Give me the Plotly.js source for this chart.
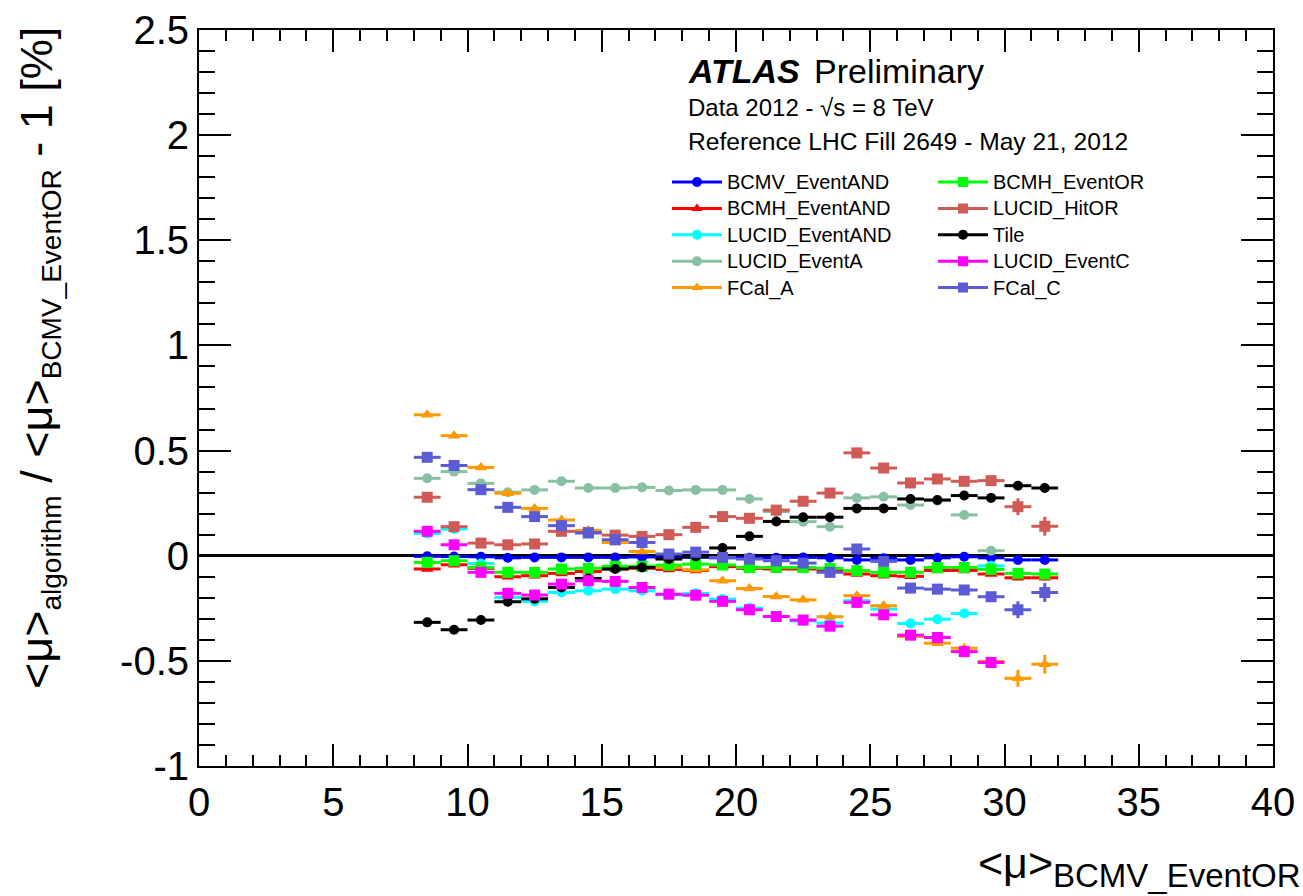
<!DOCTYPE html>
<html>
<head>
<meta charset="utf-8">
<script src="https://cdn.plot.ly/plotly-3.0.1.min.js"></script>
<style>html,body{margin:0;padding:0;background:#fff;}#chart{width:1303px;height:896px;}</style>
</head>
<body>
<div id="chart"></div>
<script>
// ---- data ----
const muBins = [8.5,9.5,10.5,11.5,12.5,13.5,14.5,15.5,16.5,17.5,18.5,19.5,20.5,21.5,22.5,23.5,24.5,25.5,26.5,27.5,28.5,29.5,30.5,31.5];

const BCMV_EventAND = [-0.003,-0.004,-0.005,-0.010,-0.008,-0.008,-0.008,-0.008,-0.006,-0.010,-0.008,-0.010,-0.010,-0.010,-0.008,-0.010,-0.020,-0.012,-0.020,-0.010,-0.005,-0.010,-0.020,-0.020];
const BCMH_EventAND = [-0.063,-0.043,-0.060,-0.100,-0.095,-0.084,-0.075,-0.063,-0.060,-0.065,-0.070,-0.052,-0.060,-0.063,-0.063,-0.070,-0.087,-0.095,-0.098,-0.070,-0.070,-0.087,-0.105,-0.105];
const LUCID_EventAND = [0.106,0.127,-0.037,-0.198,-0.217,-0.175,-0.167,-0.159,-0.167,-0.186,-0.179,-0.206,-0.249,-0.290,-0.310,-0.320,-0.214,-0.254,-0.322,-0.302,-0.275,-0.048,null,null];
const LUCID_EventA = [0.368,0.400,0.344,0.302,0.313,0.354,0.322,0.322,0.325,0.310,0.313,0.313,0.270,0.210,0.162,0.138,0.275,0.280,0.241,0.262,0.194,0.024,null,null];
const FCal_A = [0.670,0.571,0.420,0.297,0.225,0.170,0.120,0.063,0.020,-0.056,-0.067,-0.119,-0.156,-0.194,-0.210,-0.290,-0.190,-0.238,-0.384,-0.416,-0.440,-0.503,-0.583,-0.516];
const BCMH_EventOR = [-0.032,-0.024,-0.056,-0.079,-0.079,-0.063,-0.060,-0.050,-0.050,-0.045,-0.040,-0.044,-0.056,-0.056,-0.056,-0.060,-0.071,-0.079,-0.079,-0.056,-0.056,-0.065,-0.084,-0.087];
const LUCID_HitOR = [0.278,0.138,0.060,0.052,0.056,0.116,0.111,0.098,0.092,0.100,0.135,0.186,0.178,0.217,0.259,0.298,0.489,0.417,0.346,0.365,0.354,0.357,0.233,0.140];
const Tile = [-0.317,-0.352,-0.306,-0.219,-0.205,-0.151,-0.108,-0.063,-0.056,-0.016,-0.003,0.037,0.092,0.163,0.183,0.183,0.225,0.225,0.270,0.265,0.286,0.275,0.333,0.322];
const LUCID_EventC = [0.116,0.052,-0.079,-0.179,-0.187,-0.135,-0.119,-0.122,-0.151,-0.183,-0.188,-0.217,-0.257,-0.289,-0.306,-0.335,-0.222,-0.281,-0.378,-0.389,-0.456,-0.508,null,null];
const FCal_C = [0.468,0.429,0.314,0.230,0.186,0.143,0.108,0.076,0.063,0.008,0.017,-0.008,-0.016,-0.024,-0.035,-0.079,0.032,-0.027,-0.154,-0.159,-0.163,-0.195,-0.257,-0.175];

// vertical statistical uncertainty (visible mainly at high mu)
const statErr = [0.004,0.004,0.004,0.004,0.004,0.004,0.004,0.004,0.004,0.005,0.005,0.005,0.006,0.006,0.007,0.008,0.015,0.020,0.012,0.012,0.015,0.020,0.040,0.045];

const binHalfWidth = 0.5;

const yTickVals = [-1,-0.5,0,0.5,1,1.5,2,2.5];
const yTickText = ['-1','-0.5','0','0.5','1','1.5','2','2.5'];
const xTickVals = [0,5,10,15,20,25,30,35,40];

// ---- series definitions: [name, values, color, symbol, legend, hasErr] ----
const series = [
  ['BCMV_EventAND', BCMV_EventAND, '#0000ff', 'circle', 'legend', false],
  ['BCMH_EventAND', BCMH_EventAND, '#ff0000', 'triangle-up', 'legend', false],
  ['LUCID_EventAND', LUCID_EventAND, '#00ffff', 'circle', 'legend', false],
  ['LUCID_EventA', LUCID_EventA, '#88c1a2', 'circle', 'legend', false],
  ['FCal_A', FCal_A, '#ff9900', 'triangle-up', 'legend', true],
  ['BCMH_EventOR', BCMH_EventOR, '#00ff00', 'square', 'legend2', false],
  ['LUCID_HitOR', LUCID_HitOR, '#d05a55', 'square', 'legend2', true],
  ['Tile', Tile, '#000000', 'circle', 'legend2', false],
  ['LUCID_EventC', LUCID_EventC, '#ff00ff', 'square', 'legend2', false],
  ['FCal_C', FCal_C, '#5b5bd6', 'square', 'legend2', true]
];

const FONT = 'Liberation Sans, Arial, Helvetica, sans-serif';
const traces = [];
// data traces
series.forEach(s => {
  traces.push({
    type: 'scatter', mode: 'markers', name: s[0], showlegend: false,
    x: muBins, y: s[1],
    marker: {color: s[2], symbol: s[3], size: s[3] === 'circle' ? 10 : 11},
    error_x: {type: 'constant', value: binHalfWidth, width: 0, thickness: 3, color: s[2]},
    error_y: s[5] ? {type: 'data', array: statErr, width: 0, thickness: 3, color: s[2]} : {visible: false},
    cliponaxis: true
  });
});
// legend entries (line + marker sample)
series.forEach(s => {
  traces.push({
    type: 'scatter', mode: 'lines+markers', name: '<span style="font-size:20px">' + s[0] + '</span>', legend: s[4],
    x: [null], y: [null],
    line: {color: s[2], width: 3},
    marker: {color: s[2], symbol: s[3], size: 10}
  });
});

function px2paperX(px){ return (px - 199) / 1074; }
function px2paperY(py){ return (766 - py) / 737; }

const layout = {
  width: 1303, height: 896,
  margin: {l: 199, r: 30, t: 30, b: 130, pad: 0},
  paper_bgcolor: '#ffffff', plot_bgcolor: '#ffffff',
  font: {family: FONT, color: '#000000'},
  xaxis: {
    range: [0, 40], tickvals: xTickVals, ticks: 'inside', ticklen: 22, tickwidth: 2, tickcolor: '#000',
    showline: true, linecolor: '#000', linewidth: 2, mirror: 'ticks', showgrid: false, zeroline: false,
    tickfont: {family: FONT, size: 40, color: '#000'},
    minor: {dtick: 1, ticks: 'inside', ticklen: 11, tickwidth: 2, tickcolor: '#000', showgrid: false},
    fixedrange: true
  },
  yaxis: {
    range: [-1, 2.5], tickvals: yTickVals, ticktext: yTickText, ticks: 'inside', ticklen: 32, tickwidth: 2, tickcolor: '#000',
    showline: true, linecolor: '#000', linewidth: 2, mirror: 'ticks', showgrid: false,
    zeroline: true, zerolinecolor: '#000', zerolinewidth: 3,
    tickfont: {family: FONT, size: 40, color: '#000'},
    minor: {dtick: 0.1, ticks: 'inside', ticklen: 16, tickwidth: 2, tickcolor: '#000', showgrid: false},
    fixedrange: true
  },
  legend: {
    x: px2paperX(667), y: px2paperY(163), xanchor: 'left', yanchor: 'top',
    bgcolor: 'rgba(0,0,0,0)', borderwidth: 0,
    font: {family: FONT, size: 18, color: '#000'}, itemwidth: 50, tracegroupgap: 0
  },
  legend2: {
    x: px2paperX(933), y: px2paperY(163), xanchor: 'left', yanchor: 'top',
    bgcolor: 'rgba(0,0,0,0)', borderwidth: 0,
    font: {family: FONT, size: 18, color: '#000'}, itemwidth: 50, tracegroupgap: 0
  },
  annotations: [
    {xref: 'paper', yref: 'paper', x: px2paperX(686), y: px2paperY(70), xanchor: 'left', yanchor: 'middle',
     text: '<b><i>ATLAS</i></b>', showarrow: false, font: {family: FONT, size: 34, color: '#000'}},
    {xref: 'paper', yref: 'paper', x: px2paperX(812), y: px2paperY(70), xanchor: 'left', yanchor: 'middle',
     text: 'Preliminary', showarrow: false, font: {family: FONT, size: 34, color: '#000'}},
    {xref: 'paper', yref: 'paper', x: px2paperX(686), y: px2paperY(107), xanchor: 'left', yanchor: 'middle',
     text: 'Data 2012 - √s = 8 TeV', showarrow: false, font: {family: FONT, size: 24, color: '#000'}},
    {xref: 'paper', yref: 'paper', x: px2paperX(686), y: px2paperY(141), xanchor: 'left', yanchor: 'middle',
     text: 'Reference LHC Fill 2649 - May 21, 2012', showarrow: false, font: {family: FONT, size: 24.6, color: '#000'}},
    {xref: 'paper', yref: 'paper', x: px2paperX(1303), y: px2paperY(896), xanchor: 'right', yanchor: 'bottom',
     text: '&lt;μ&gt;<sub><span style="font-size:33px">BCMV_EventOR</span></sub>', showarrow: false,
     font: {family: FONT, size: 43, color: '#000'}},
    {xref: 'paper', yref: 'paper', x: px2paperX(39), y: px2paperY(24), xanchor: 'center', yanchor: 'top', textangle: -90,
     text: '&lt;μ&gt;<sub><span style="font-size:28px">algorithm</span></sub> / &lt;μ&gt;<sub><span style="font-size:28px">BCMV_EventOR</span></sub> - 1 [%]', showarrow: false,
     font: {family: FONT, size: 45, color: '#000'}}
  ]
};

Plotly.newPlot('chart', traces, layout, {displayModeBar: false, staticPlot: true});
</script>
</body>
</html>
